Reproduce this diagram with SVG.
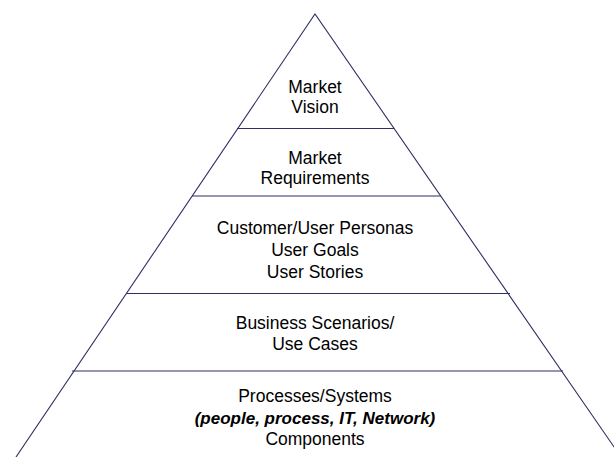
<svg xmlns="http://www.w3.org/2000/svg" width="614" height="457" viewBox="0 0 614 457">
<style>
.edge{fill:none;stroke:#2e2e66;stroke-width:1.1}
.div{stroke:#2e2e66;stroke-width:1.1}
text{font-family:"Liberation Sans",Arial,sans-serif;font-size:17.5px;fill:#000;text-anchor:middle}
.it{font-weight:bold;font-style:italic;font-size:17px}
</style>
<rect width="614" height="457" fill="#fff"/>
<g id="connectors">
<path class="edge" d="M16,457 L315,14 L621,457"/>
<line class="div" x1="237" y1="128.5" x2="394" y2="128.5"/>
<line class="div" x1="192" y1="196" x2="441" y2="196" stroke="#6a6a8a" stroke-width="1.6"/>
<line class="div" x1="127" y1="293.5" x2="510" y2="293.5"/>
<line class="div" x1="72" y1="371" x2="563" y2="371"/>
</g>
<g id="market-vision">
<text x="315" y="93">Market</text>
<text x="315" y="113">Vision</text>
</g>
<g id="market-requirements">
<text x="315" y="164">Market</text>
<text x="315" y="184">Requirements</text>
</g>
<g id="personas">
<text x="315" y="234">Customer/User Personas</text>
<text x="315" y="256">User Goals</text>
<text x="315" y="278">User Stories</text>
</g>
<g id="scenarios">
<text x="315" y="329">Business Scenarios/</text>
<text x="315" y="350">Use Cases</text>
</g>
<g id="processes">
<text x="315" y="402">Processes/Systems</text>
<text x="315" y="424" class="it">(people, process, IT, Network)</text>
<text x="315" y="445">Components</text>
</g>
</svg>
